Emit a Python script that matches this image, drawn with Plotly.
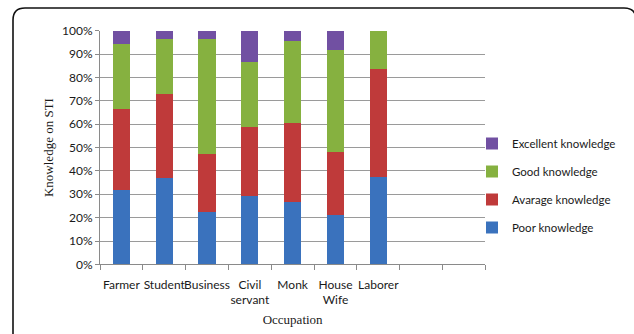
import plotly.graph_objects as go

W, H = 634, 334

categories = ["Farmer", "Student", "Business", "Civil<br>servant", "Monk", "House<br>Wife", "Laborer", " ", "  "]
occupations = categories[:7]

poor = [32.0, 36.8, 22.4, 29.4, 26.7, 21.0, 37.6]
average = [34.7, 36.0, 24.8, 29.2, 33.7, 27.0, 46.0]
good = [27.7, 23.8, 49.4, 27.9, 35.3, 43.9, 16.4]
excellent = [5.6, 3.4, 3.4, 13.5, 4.3, 8.1, 0.0]

series_names = ["Poor knowledge", "Avarage knowledge", "Good knowledge", "Excellent knowledge"]
series_values = [poor, average, good, excellent]
series_colors = ["#3a72bd", "#bf3a3a", "#86b140", "#7150a2"]
legend_ranks = [4, 3, 2, 1]

SANS = "Lato"
SERIF = "Liberation Serif"

# plot area in pixels
x0, x1 = 100, 485.3
y_top, y_bot = 30.7, 264.4

fig = go.Figure()
for name, vals, col, rk in zip(series_names, series_values, series_colors, legend_ranks):
    fig.add_trace(go.Bar(
        x=occupations, y=vals, name=name,
        marker=dict(color=col, line=dict(width=0)),
        legendgroup=name, legendrank=rk,
    ))

fig.update_layout(
    width=W, height=H,
    margin=dict(l=0, r=0, t=0, b=0),
    paper_bgcolor="white", plot_bgcolor="white",
    barmode="stack", bargap=0.6,
    font=dict(family=SANS, size=12, color="#1a1a1a"),
    xaxis=dict(
        domain=[x0 / W, x1 / W],
        categoryorder="array", categoryarray=categories,
        type="category", range=[-0.5, 8.5],
        tickson="boundaries", ticks="outside", ticklen=5, tickcolor="#8a8a8a",
        ticklabelstandoff=9,
        showline=True, linecolor="#8a8a8a", linewidth=1,
        showgrid=False, tickangle=0,
        tickfont=dict(family=SANS, size=12, color="#1a1a1a"),
        title=dict(text="Occupation", font=dict(family=SERIF, size=13, color="#1a1a1a"), standoff=8),
        automargin=False,
    ),
    yaxis=dict(
        domain=[1 - y_bot / H, 1 - y_top / H],
        range=[0, 100], dtick=10, ticksuffix="%",
        ticks="outside", ticklen=4, tickcolor="#8a8a8a",
        showline=True, linecolor="#8a8a8a", linewidth=1,
        showgrid=True, gridcolor="#9a9a9a", gridwidth=1,
        zeroline=False,
        tickfont=dict(family=SANS, size=12, color="#1a1a1a"),
        title=dict(text="Knowledge on STI", font=dict(family=SERIF, size=13, color="#1a1a1a"), standoff=5),
        automargin=False,
    ),
    legend=dict(
        x=472 / W, y=1 - 129 / H, xanchor="left", yanchor="top",
        traceorder="grouped", tracegroupgap=9,
        font=dict(family=SANS, size=11.5, color="#1a1a1a"),
        itemwidth=30, bgcolor="rgba(0,0,0,0)",
    ),
    showlegend=True,
)

# rounded border frame (pixel coords -> paper coords)
def px(x):
    return x / W

def py(y):
    return 1 - y / H

r = 12
bx0, by0, bx1 = 13, 8, 636
path = (
    f"M {px(bx0)},{py(H + 5)} L {px(bx0)},{py(by0 + r)} "
    f"Q {px(bx0)},{py(by0)} {px(bx0 + r)},{py(by0)} "
    f"L {px(bx1 - r)},{py(by0)} Q {px(bx1)},{py(by0)} {px(bx1)},{py(by0 + r)} "
    f"L {px(bx1)},{py(H + 5)}"
)
fig.add_shape(type="path", xref="paper", yref="paper", path=path,
              line=dict(color="#111111", width=1.6))

fig.write_html("out.html")
